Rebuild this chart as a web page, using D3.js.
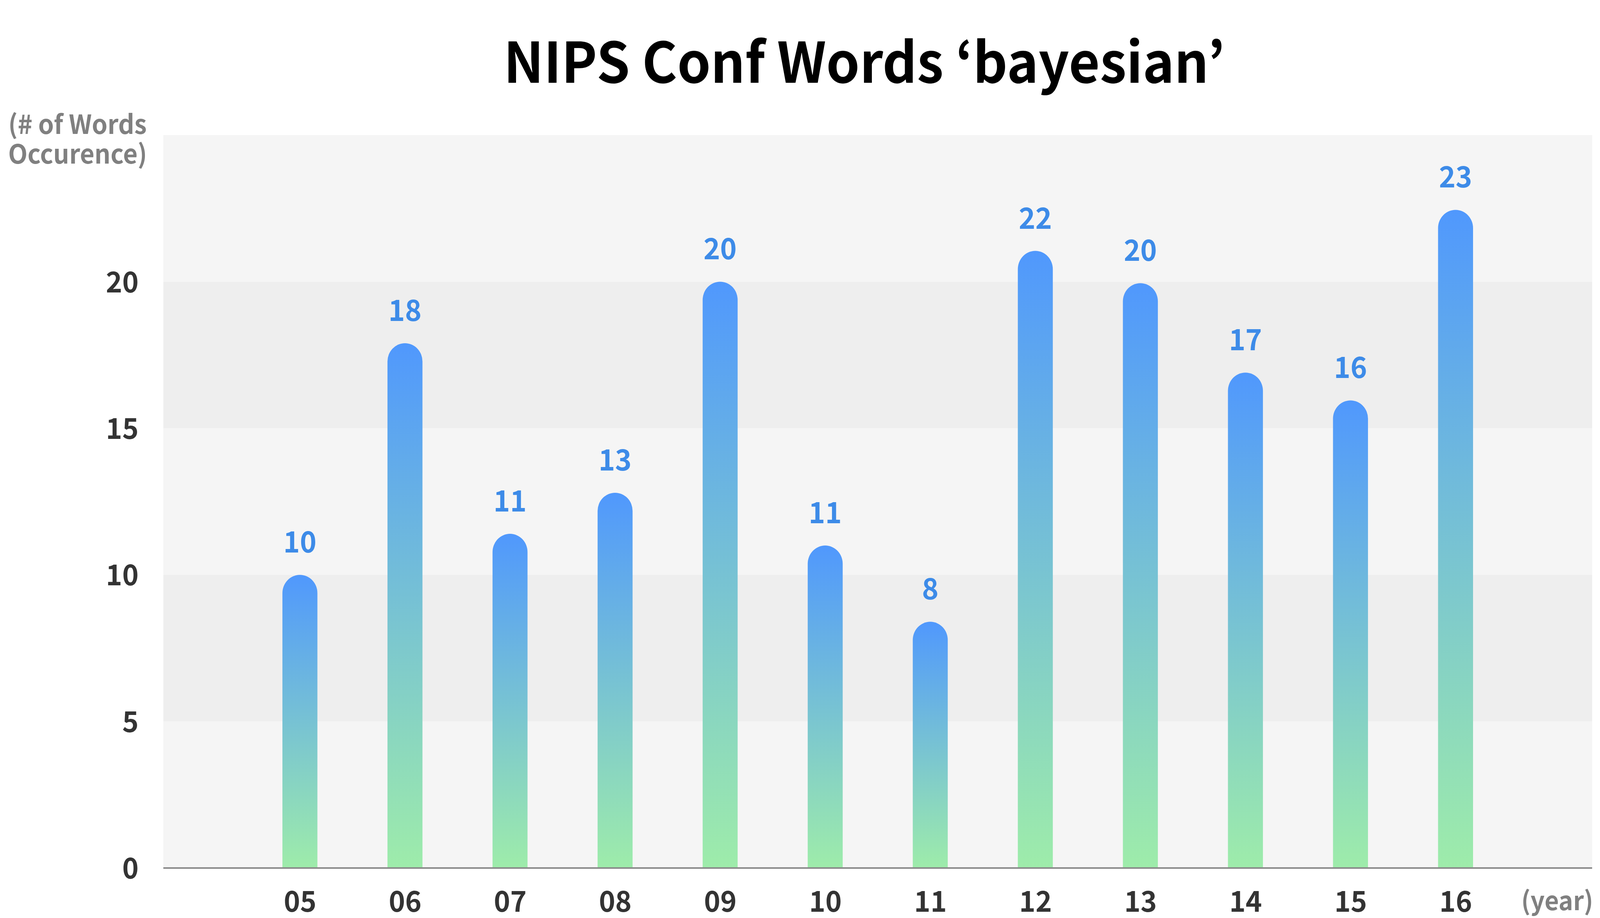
<!DOCTYPE html>
<html>
<head>
<meta charset="utf-8">
<script src="https://cdn.jsdelivr.net/npm/d3@7"></script>
<style>
  html, body { margin: 0; padding: 0; background: #ffffff; overflow: hidden; width: 100%; height: 100%; }
  svg { display: block; width: 100vw; height: 100vh; }
  text { font-family: "Noto Sans CJK KR", "Source Sans Pro", "Noto Sans", sans-serif; font-weight: 700; }
</style>
</head>
<body>
<svg id="chart"></svg>
<script>
// ---- data ----
const years = ["05", "06", "07", "08", "09", "10", "11", "12", "13", "14", "15", "16"];
const barHeights = [10.0, 17.9, 11.4, 12.8, 20.0, 11.0, 8.4, 21.05, 19.95, 16.9, 15.95, 22.45];
const valueLabels = ["10", "18", "11", "13", "20", "11", "8", "22", "20", "17", "16", "23"];
const yTicks = [0, 5, 10, 15, 20];
const bandEdges = [0, 5, 10, 15, 20, 25];
const titleText = "NIPS Conf Words \u2018bayesian\u2019";
const yTitleLines = ["(# of Words", "Occurence)"];
const xTitleText = "(year)";

// ---- layout ----
const W = 4271, H = 2351;
const plotLeft = 436, plotRight = 4250, plotTop = 346, plotBottom = 2223;

const svg = d3.select("#chart")
  .attr("viewBox", `0 0 ${W} ${H}`)
  .attr("preserveAspectRatio", "none");

const x = d3.scalePoint().domain(years).range([plotLeft, plotRight]).padding(1.3);
const y = d3.scaleLinear().domain([0, 25]).range([plotBottom, plotTop]);
const barW = x.step() * 0.333;
const r = barW / 2;

// gradient
const defs = svg.append("defs");
const grad = defs.append("linearGradient")
  .attr("id", "barGrad").attr("x1", 0).attr("y1", 0).attr("x2", 0).attr("y2", 1);
grad.append("stop").attr("offset", "0%").attr("stop-color", "#5098fd");
grad.append("stop").attr("offset", "100%").attr("stop-color", "#9eecaa");

// background bands
const bands = d3.pairs(bandEdges);
svg.append("g").selectAll("rect").data(bands).join("rect")
  .attr("x", plotLeft)
  .attr("width", plotRight - plotLeft)
  .attr("y", d => y(d[1]))
  .attr("height", d => y(d[0]) - y(d[1]))
  .attr("fill", (d, i) => i % 2 === 0 ? "#f5f5f5" : "#eeeeee");

// bars with rounded tops
svg.append("g").selectAll("path").data(years).join("path")
  .attr("d", (d, i) => {
    const cx = x(d), yt = y(barHeights[i]), y0 = y(0);
    const p = d3.path();
    p.moveTo(cx - r, y0);
    p.lineTo(cx - r, yt + r);
    p.arc(cx, yt + r, r, Math.PI, 0);
    p.lineTo(cx + r, y0);
    p.closePath();
    return p.toString();
  })
  .attr("fill", "url(#barGrad)");

// value labels
svg.append("g").selectAll("text").data(years).join("text")
  .attr("x", d => x(d))
  .attr("y", (d, i) => y(barHeights[i]) - 57)
  .attr("text-anchor", "middle")
  .attr("font-size", 75)
  .attr("fill", "#3d8be8")
  .text((d, i) => valueLabels[i]);

// x axis line
svg.append("line")
  .attr("x1", plotLeft).attr("x2", plotRight)
  .attr("y1", y(0)).attr("y2", y(0))
  .attr("stroke", "#8a8a8a").attr("stroke-width", 4);

// x axis labels
const xAxis = svg.append("g")
  .attr("transform", `translate(0,${plotBottom})`)
  .call(d3.axisBottom(x).tickSize(0));
xAxis.select(".domain").remove();
xAxis.selectAll("text")
  .attr("y", 112).attr("dy", 0)
  .attr("font-size", 74)
  .attr("fill", "#333333")
  .style("font-family", "'Noto Sans CJK KR', sans-serif")
  .style("font-weight", 700);

// y axis labels
const yAxis = svg.append("g")
  .attr("transform", `translate(${plotLeft},0)`)
  .call(d3.axisLeft(y).tickValues(yTicks).tickSize(0));
yAxis.select(".domain").remove();
yAxis.selectAll("text")
  .attr("x", -66).attr("dy", "0.36em")
  .attr("font-size", 74)
  .attr("fill", "#333333")
  .style("font-family", "'Noto Sans CJK KR', sans-serif")
  .style("font-weight", 700);

// title
svg.append("text")
  .attr("x", 2307).attr("y", 212)
  .attr("text-anchor", "middle")
  .attr("font-size", 143)
  .attr("fill", "#000000")
  .text(titleText);

// y axis title
svg.append("g").selectAll("text").data(yTitleLines).join("text")
  .attr("x", 22)
  .attr("y", (d, i) => 343 + i * 76)
  .attr("font-size", 67)
  .attr("fill", "#808080")
  .text(d => d);

// x axis title
svg.append("text")
  .attr("x", 4253).attr("y", 2331)
  .attr("text-anchor", "end")
  .attr("font-size", 66)
  .attr("fill", "#808080")
  .text(xTitleText);
</script>
</body>
</html>
